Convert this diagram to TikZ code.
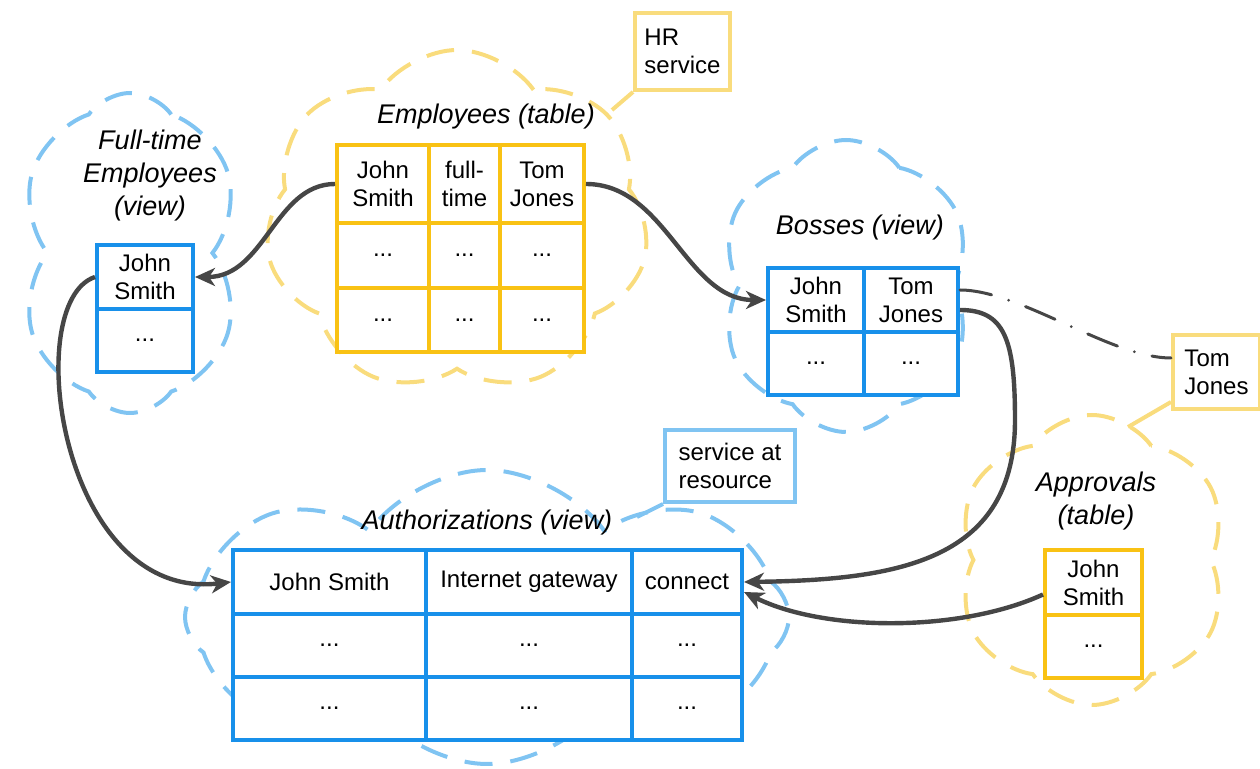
\documentclass[tikz,border=0pt]{standalone}
\usepackage{fontspec}
\setmainfont{Liberation Sans}
\usetikzlibrary{shapes.symbols,arrows.meta}

\definecolor{tblblue}{RGB}{24,144,234}
\definecolor{tblyellow}{RGB}{249,194,20}
\definecolor{lightblue}{RGB}{128,196,242}
\definecolor{lightyellow}{RGB}{249,220,125}
\definecolor{linkgray}{RGB}{70,70,70}

\newcommand{\cellfnt}{\fontsize{12}{14}\selectfont}
\newcommand{\titlefnt}{\fontsize{13.5}{16.5}\selectfont\itshape}

\tikzstyle{cell} = [rectangle, anchor=north west, inner sep=0pt, line width=2pt, fill=white, align=center, font=\cellfnt]
\tikzstyle{bluecell} = [cell, draw=tblblue]
\tikzstyle{yellowcell} = [cell, draw=tblyellow]
\tikzstyle{heading} = [align=center, font=\titlefnt]
\tikzstyle{puff} = [cloud, cloud puffs=6, cloud puff arc=110, cloud ignores aspect, line width=2pt, dash pattern=on 14pt off 9pt]
\tikzstyle{note} = [rectangle, anchor=north west, inner sep=0pt, line width=2pt, fill=white, align=left, font=\cellfnt]
\tikzstyle{link} = [line width=2.2pt, draw=linkgray, -{Stealth[length=10pt,width=9pt,inset=3pt]}]

\begin{document}
\begin{tikzpicture}[x=0.5pt, y=-0.5pt]
    \useasboundingbox (0,0) rectangle (1260,769);
    % clouds
    \node (ftcloud) [puff, draw=lightblue, minimum width=113pt, minimum height=160pt, shape border rotate=20] at (130,253) {};
    \node (empcloud) [puff, draw=lightyellow, minimum width=192pt, minimum height=172pt, cloud puffs=7] at (457,222) {};
    \node (bosscloud) [puff, draw=lightblue, minimum width=128pt, minimum height=146pt, shape border rotate=40] at (846,286) {};
    \node (apprcloud) [puff, draw=lightyellow, minimum width=137pt, minimum height=145pt, shape border rotate=10] at (1092,560) {};
    \node (authcloud) [puff, draw=lightblue, minimum width=302pt, minimum height=147pt, cloud puffs=8] at (487,617) {};

    % notes
    \node (hrnote) [note, draw=lightyellow, minimum width=47.5pt, minimum height=38.5pt] at (633,11) {HR\\service};
    \node (tomnote) [note, draw=lightyellow, minimum width=43.5pt, minimum height=37pt] at (1171,333) {Tom\\Jones};
    \node (svcnote) [note, draw=lightblue, minimum width=65pt, minimum height=36pt] at (663,428) {service at\\resource};
    \coordinate (hrtip) at (612,110);
    \coordinate (tomtip) at (1128,427);
    \coordinate (svctip) at (637,517);
    \draw [lightyellow, line width=2pt] (hrnote.south west) -- (hrtip);
    \draw [lightyellow, line width=2pt] ([yshift=4.5pt]tomnote.south west) -- (tomtip);
    \draw [lightblue, line width=2pt] (svcnote.south west) -- (svctip);

    % Employees (table)
    \node (emptitle) [heading] at (486,117) {Employees (table)};
    \node (emp11) [yellowcell, minimum width=46pt, minimum height=39pt] at (335,143) {John\\Smith};
    \node (emp12) [yellowcell, minimum width=35.5pt, minimum height=39pt] at (427,143) {full-\\time};
    \node (emp13) [yellowcell, minimum width=42pt, minimum height=39pt] at (498,143) {Tom\\Jones};
    \node (emp21) [yellowcell, minimum width=46pt, minimum height=32.5pt] at (335,221) {...};
    \node (emp22) [yellowcell, minimum width=35.5pt, minimum height=32.5pt] at (427,221) {...};
    \node (emp23) [yellowcell, minimum width=42pt, minimum height=32.5pt] at (498,221) {...};
    \node (emp31) [yellowcell, minimum width=46pt, minimum height=32pt] at (335,286) {...};
    \node (emp32) [yellowcell, minimum width=35.5pt, minimum height=32pt] at (427,286) {...};
    \node (emp33) [yellowcell, minimum width=42pt, minimum height=32pt] at (498,286) {...};

    % Full-time Employees (view)
    \node (fttitle) [heading] at (150,176) {Full-time\\Employees\\(view)};
    \node (ft1) [bluecell, minimum width=48pt, minimum height=32pt] at (95,243) {John\\Smith};
    \node (ft2) [bluecell, minimum width=48pt, minimum height=31.5pt] at (95,307) {...};

    % Bosses (view)
    \node (bosstitle) [heading] at (860,228) {Bosses (view)};
    \node (boss11) [bluecell, minimum width=48pt, minimum height=32pt] at (766,266) {John\\Smith};
    \node (boss12) [bluecell, minimum width=47pt, minimum height=32pt] at (862,266) {Tom\\Jones};
    \node (boss21) [bluecell, minimum width=48pt, minimum height=31.5pt] at (766,330) {...};
    \node (boss22) [bluecell, minimum width=47pt, minimum height=31.5pt] at (862,330) {...};

    % Authorizations (view)
    \node (authtitle) [heading] at (487,523) {Authorizations (view)};
    \node (auth11) [bluecell, minimum width=96.5pt, minimum height=32pt] at (231,548) {John Smith};
    \node (auth12) [bluecell, minimum width=103pt, minimum height=32pt] at (424,548) {Internet gateway};
    \node (auth13) [bluecell, minimum width=55pt, minimum height=32pt] at (630,548) {connect};
    \node (auth21) [bluecell, minimum width=96.5pt, minimum height=31.5pt] at (231,612) {...};
    \node (auth22) [bluecell, minimum width=103pt, minimum height=31.5pt] at (424,612) {...};
    \node (auth23) [bluecell, minimum width=55pt, minimum height=31.5pt] at (630,612) {...};
    \node (auth31) [bluecell, minimum width=96.5pt, minimum height=31.5pt] at (231,675) {...};
    \node (auth32) [bluecell, minimum width=103pt, minimum height=31.5pt] at (424,675) {...};
    \node (auth33) [bluecell, minimum width=55pt, minimum height=31.5pt] at (630,675) {...};

    % Approvals (table)
    \node (apprtitle) [heading] at (1096,501) {Approvals\\(table)};
    \node (appr1) [yellowcell, minimum width=48.5pt, minimum height=32.5pt] at (1043,548) {John\\Smith};
    \node (appr2) [yellowcell, minimum width=48.5pt, minimum height=31.5pt] at (1043,613) {...};

    % links
    \draw [link] (emp11.west) .. controls +(-60,0) and +(70,0) .. (ft1.east);
    \draw [link] (emp13.east) .. controls +(80,0) and +(-80,0) .. (boss11.west);
    \draw [link] (ft1.west) .. controls +(-75,25) and +(-171,20) .. (auth11.west);
    \draw [link] ([yshift=-5pt]boss12.east) .. controls +(45,0) and (1015,340) .. (1015,420) .. controls (1015,560) and (900,580) .. (auth13.east);
    \draw [link] ([yshift=-6pt]appr1.west) .. controls +(-83,38) and +(80,40) .. ([yshift=-5pt]auth13.east);
    \draw [linkgray, line width=1.5pt, line cap=round, dash pattern=on 16pt off 9pt on 0pt off 9pt] ([yshift=5pt]boss12.east) .. controls +(60,0) and +(-60,0) .. ([yshift=7pt]tomnote.west);
\end{tikzpicture}
\end{document}
